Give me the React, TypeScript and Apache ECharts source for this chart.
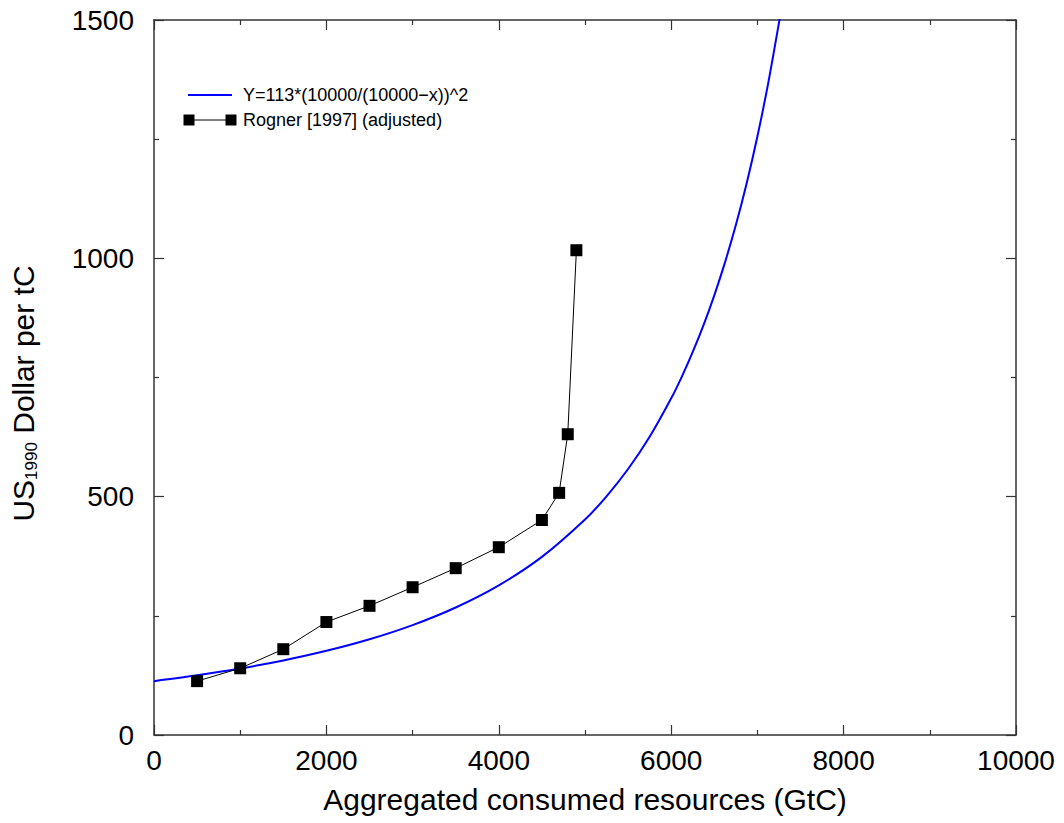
import React, { useEffect, useRef } from "react";
import * as echarts from "echarts";

// Rogner [1997] (adjusted) cost points
const rognerX = [500, 1000, 1500, 2000, 2500, 3000, 3500, 4000, 4500, 4700, 4800, 4900];
const rognerY = [113, 140, 180, 237, 271, 310, 350, 394, 451, 508, 631, 1017];

// Values of Y = 113*(10000/(10000-x))^2 at sampled x
const curveX = [0, 500, 1000, 1500, 2000, 2500, 3000, 3500, 4000, 4500, 5000, 5250, 5500, 5750, 6000, 6125, 6250, 6375, 6500, 6625, 6750, 6875, 7000, 7125, 7250, 7300];
const curveY = [113, 125.2, 139.5, 156.4, 176.6, 200.9, 230.6, 267.5, 313.9, 373.6, 452.0, 500.8, 558.0, 625.6, 706.3, 752.5, 803.6, 859.9, 922.4, 992.0, 1069.8, 1157.1, 1255.6, 1367.1, 1494.2, 1550.1];

const curveLabel = "Y=113*(10000/(10000\u2212x))^2";
const rognerLabel = "Rogner [1997] (adjusted)";

const FONT = "'Liberation Sans', Arial, Helvetica, sans-serif";
const FRAME = "#333";

export default function App() {
  const ref = useRef<HTMLDivElement>(null);

  useEffect(() => {
    document.body.style.margin = "0";
    if (!ref.current) return;
    const chart = echarts.init(ref.current, undefined, { renderer: "svg" });

    const frameAxis = (extra: any) => ({
      type: "value",
      axisLine: { show: true, onZero: false, lineStyle: { color: FRAME, width: 1.5 } },
      axisTick: { show: true, inside: true, length: 10, lineStyle: { color: FRAME, width: 1.2 } },
      minorTick: { show: true, splitNumber: 2, length: 5, lineStyle: { color: FRAME, width: 1.2 } },
      splitLine: { show: false },
      minorSplitLine: { show: false },
      ...extra,
    });

    const plain = (v: number) => String(v);

    chart.setOption({
      animation: false,
      backgroundColor: "#fff",
      textStyle: { fontFamily: FONT },
      grid: { left: 154, right: 48, top: 20, bottom: 88, containLabel: false },
      xAxis: [
        frameAxis({
          position: "bottom",
          min: 0,
          max: 10000,
          interval: 2000,
          axisLabel: { show: true, color: "#000", fontSize: 28, margin: 11, fontFamily: FONT, formatter: plain },
          name: "Aggregated consumed resources (GtC)",
          nameLocation: "middle",
          nameGap: 49,
          nameTextStyle: { color: "#000", fontSize: 30, fontFamily: FONT },
        }),
        frameAxis({
          position: "top",
          min: 0,
          max: 10000,
          interval: 2000,
          axisLabel: { show: false },
        }),
      ],
      yAxis: [
        frameAxis({
          position: "left",
          min: 0,
          max: 1500,
          interval: 500,
          axisLabel: { show: true, color: "#000", fontSize: 28, margin: 20, fontFamily: FONT, formatter: plain },
          name: "{a|US}{b|1990}{a| Dollar per tC}",
          nameLocation: "middle",
          nameGap: 114,
          nameRotate: 90,
          nameTextStyle: {
            color: "#000",
            fontFamily: FONT,
            padding: [0, 32, 0, 0],
            rich: {
              a: { fontSize: 30, color: "#000", fontFamily: FONT },
              b: { fontSize: 17, color: "#000", fontFamily: FONT, verticalAlign: "bottom", padding: [16, 0, 0, 0] },
            },
          },
        }),
        frameAxis({
          position: "right",
          min: 0,
          max: 1500,
          interval: 500,
          axisLabel: { show: false },
        }),
      ],
      series: [
        {
          name: curveLabel,
          type: "line",
          xAxisIndex: 0,
          yAxisIndex: 0,
          data: curveX.map((x, i) => [x, curveY[i]]),
          smooth: 0.3,
          showSymbol: false,
          clip: true,
          lineStyle: { color: "#0000ff", width: 2 },
          z: 2,
        },
        {
          name: rognerLabel,
          type: "line",
          xAxisIndex: 0,
          yAxisIndex: 0,
          data: rognerX.map((x, i) => [x, rognerY[i]]),
          symbol: "rect",
          symbolSize: 12,
          showSymbol: true,
          itemStyle: { color: "#000" },
          lineStyle: { color: "#000", width: 1 },
          z: 3,
        },
      ],
      graphic: [
        { type: "line", shape: { x1: 188, y1: 95, x2: 232, y2: 95 }, style: { stroke: "#0000ff", lineWidth: 2 } },
        {
          type: "text",
          x: 243,
          y: 95,
          style: { text: curveLabel, fontSize: 18, fontFamily: FONT, fill: "#000", verticalAlign: "middle", align: "left" },
        },
        { type: "line", shape: { x1: 189, y1: 120, x2: 231, y2: 120 }, style: { stroke: "#000", lineWidth: 1 } },
        { type: "rect", shape: { x: 183.5, y: 114.5, width: 11, height: 11 }, style: { fill: "#000" } },
        { type: "rect", shape: { x: 225.5, y: 114.5, width: 11, height: 11 }, style: { fill: "#000" } },
        {
          type: "text",
          x: 243,
          y: 120,
          style: { text: rognerLabel, fontSize: 18, fontFamily: FONT, fill: "#000", verticalAlign: "middle", align: "left" },
        },
      ],
    });

    return () => chart.dispose();
  }, []);

  return <div ref={ref} style={{ width: 1064, height: 823 }} />;
}
